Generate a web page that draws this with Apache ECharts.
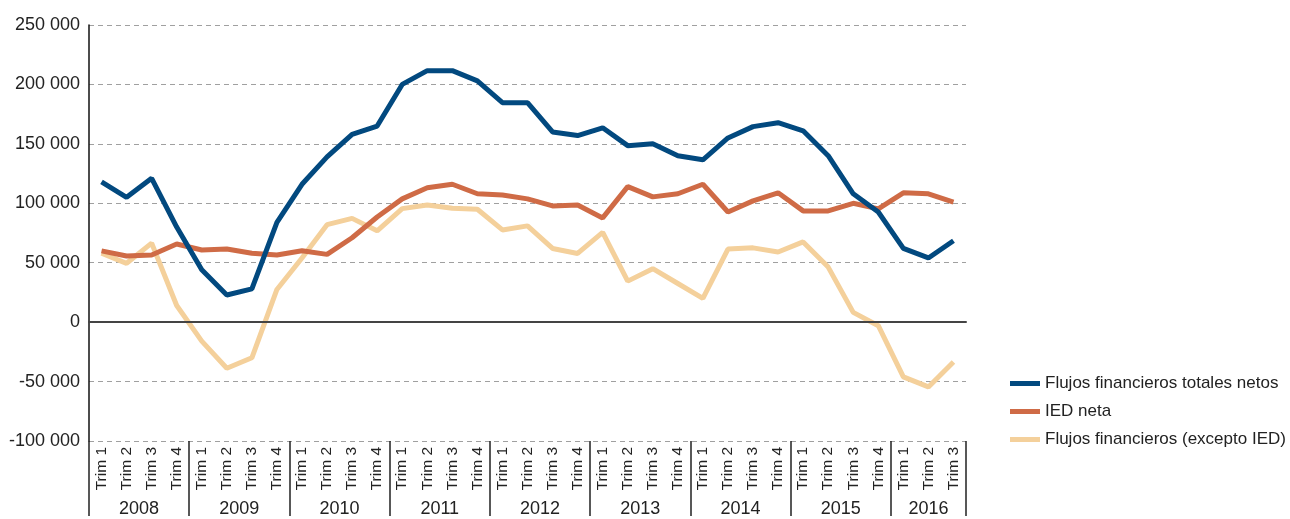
<!DOCTYPE html>
<html><head><meta charset="utf-8">
<script src="https://cdn.jsdelivr.net/npm/echarts@6/dist/echarts.min.js"></script>
<style>html,body{margin:0;padding:0;background:#fff}#c{width:1290px;height:519px}</style>
</head><body><div id="c"></div>
<script>
const years = ['2008','2009','2010','2011','2012','2013','2014','2015','2016'];
const quarters = ['Trim 1','Trim 2','Trim 3','Trim 4'];
const quartersPerYear = [4,4,4,4,4,4,4,4,3];
const totales = [118000,105000,121000,80000,44000,22800,28000,84000,116000,139000,158000,165000,200000,211600,211600,203000,184600,184600,160000,157000,163500,148500,150000,140000,136600,155000,164500,167800,161000,140000,108000,92700,62000,54000,68500];
const ied = [60000,55600,56500,65700,60700,61500,58000,56500,60000,57000,71000,88500,103700,113000,116000,108000,107000,103700,97800,98600,87700,114000,105400,108000,116000,92700,102000,108800,93600,93600,100000,95300,108800,108000,101000];
const excepto = [58000,49500,66500,14000,-16000,-38800,-30000,27500,54000,82000,87300,76800,95500,98600,95800,95000,77600,81000,62000,57800,75500,34500,45000,32500,20000,61500,62500,59000,67500,46300,8200,-3000,-46000,-54500,-33500];
const yMin = -100000, yMax = 250000, yStep = 50000;
const names = ['Flujos financieros totales netos','IED neta','Flujos financieros (excepto IED)'];
const colors = ['#02497f','#cf6b46','#f4d09b'];

const categories = [];
years.forEach((y, yi) => { for (let q = 0; q < quartersPerYear[yi]; q++) categories.push(y + '|' + quarters[q]); });

const FONT = '"Liberation Sans Narrow","Liberation Sans",Arial,sans-serif';
function fmt(v){ const s = Math.abs(v).toString().replace(/\B(?=(\d{3})+(?!\d))/g,' '); return (v<0?'-':'') + s; }

const chart = echarts.init(document.getElementById('c'));
chart.setOption({
  animation: false,
  textStyle: { fontFamily: FONT },
  grid: { left: 89, right: 324, top: 25, bottom: 78, containLabel: false, outerBoundsMode: 'none' },
  legend: {
    orient: 'vertical', left: 1005, top: 370, itemWidth: 30, itemHeight: 5, itemGap: 11, icon: 'rect',
    data: names, textStyle: { fontFamily: FONT, fontSize: 17, color: '#222' }
  },
  xAxis: [
    { type: 'category', data: categories, position: 'bottom', boundaryGap: true,
      axisLine: { show: false, onZero: false },
      axisTick: { show: true, interval: (i) => i % 4 === 0, length: 75, lineStyle: { color: '#222', width: 1.5 } },
      axisLabel: { interval: 0, rotate: 90, margin: 6, fontFamily: FONT, fontSize: 15.5, color: '#222',
        formatter: (v) => v.split('|')[1] },
      splitLine: { show: false } },
    { type: 'category', data: categories, position: 'bottom', offset: 53, boundaryGap: true,
      axisLine: { show: false, onZero: false }, axisTick: { show: false },
      axisLabel: { interval: (i) => i % 4 === 1, margin: 6, color: '#222', fontFamily: FONT, fontSize: 18,
        formatter: (v) => { const p = v.split('|'); const yi = years.indexOf(p[0]); return quartersPerYear[yi] === 4 ? '{a|' + p[0] + '}' : '{b|' + p[0] + '}'; },
        rich: { a: { padding: [0,0,0,25], fontFamily: FONT, fontSize: 18, color: '#222' }, b: { fontFamily: FONT, fontSize: 18, color: '#222' } } } },
    { type: 'category', data: categories, boundaryGap: true,
      axisLine: { show: true, onZero: true, lineStyle: { color: '#444', width: 2 } },
      axisTick: { show: false }, axisLabel: { show: false }, z: 5 }
  ],
  yAxis: {
    type: 'value', min: yMin, max: yMax, interval: yStep,
    axisLine: { show: true, lineStyle: { color: '#111', width: 1.5 } },
    axisTick: { show: false },
    axisLabel: { formatter: fmt, fontFamily: FONT, fontSize: 18, color: '#222', margin: 9 },
    splitLine: { show: true, lineStyle: { color: '#a0a0a0', width: 1, type: [5,4] } }
  },
  series: [
    { name: names[2], type: 'line', data: excepto, xAxisIndex: 0, symbol: 'none', lineStyle: { width: 5, color: colors[2] }, itemStyle: { color: colors[2] }, z: 2 },
    { name: names[1], type: 'line', data: ied, xAxisIndex: 0, symbol: 'none', lineStyle: { width: 5, color: colors[1] }, itemStyle: { color: colors[1] }, z: 3 },
    { name: names[0], type: 'line', data: totales, xAxisIndex: 0, symbol: 'none', lineStyle: { width: 5, color: colors[0] }, itemStyle: { color: colors[0] }, z: 4 }
  ]
});
</script></body></html>
